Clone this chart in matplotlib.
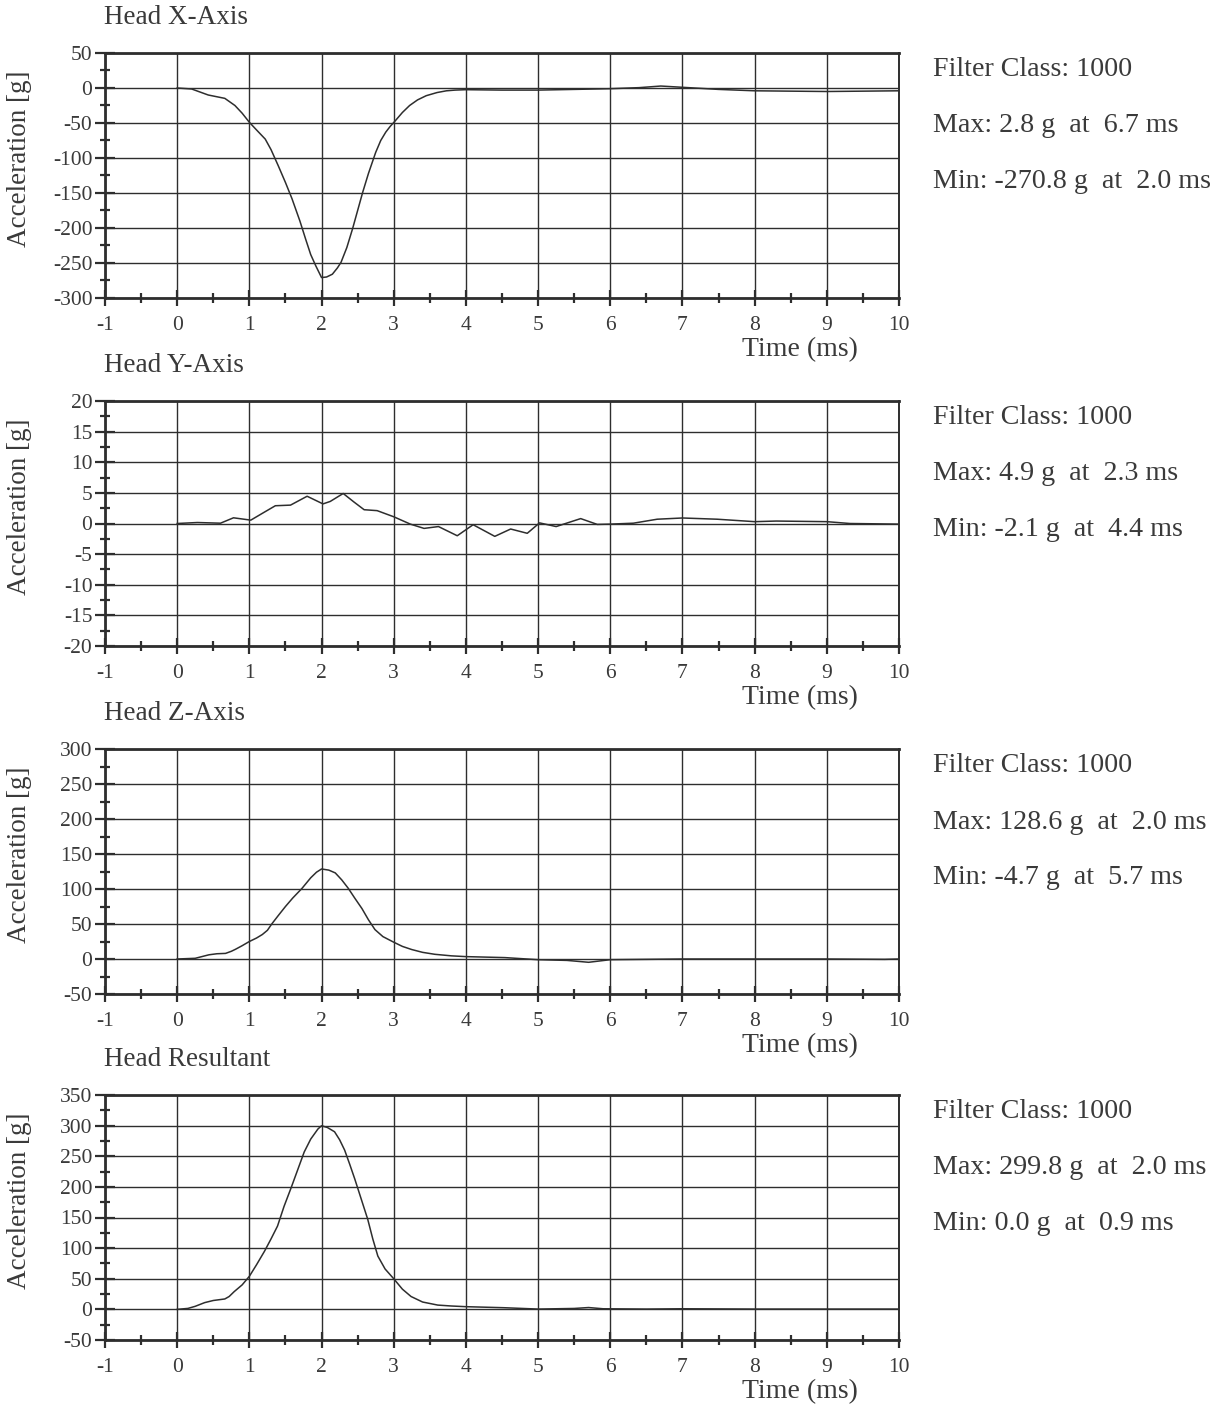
import matplotlib
matplotlib.use("Agg")  # no display
import matplotlib.pyplot as plt
from matplotlib.ticker import MultipleLocator

plt.rcParams["font.family"] = ["Liberation Serif", "DejaVu Serif"]
plt.rcParams["axes.unicode_minus"] = False  # the print uses plain hyphens

INK = "#3a3a3a"
LINE = "#2e2e2e"

# --- data (time in ms, acceleration in g) ---
x_time = [0, 0.2, 0.43, 0.66, 0.8, 0.9, 1.0, 1.1, 1.22, 1.3, 1.4, 1.5, 1.59,
          1.7, 1.78, 1.85, 1.92, 2.0, 2.07, 2.15, 2.22, 2.27, 2.35, 2.43, 2.5,
          2.57, 2.65, 2.75, 2.82, 2.89, 2.95, 3.02, 3.12, 3.22, 3.33, 3.45, 3.6,
          3.73, 3.85, 4.0, 4.5, 5.0, 5.5, 6.0, 6.4, 6.7, 7.0, 7.5, 8.0, 8.5,
          9.0, 9.5, 10.0]
x_acc = [0, -1.4, -10, -14.8, -25, -36, -49, -60, -73, -88, -111, -135, -158,
         -190, -216, -238, -254, -270.8, -270, -266, -257, -249, -228, -201, -175,
         -149, -122, -92, -75, -63, -55, -47, -35, -25, -17, -11, -6.5,
         -4, -3, -2.4, -3, -3, -2, -1, 0.5, 2.8, 1, -2, -4, -4.5,
         -5, -4.5, -4]

y_time = [0, 0.28, 0.6, 0.78, 1.02, 1.2, 1.36, 1.57, 1.8, 2.02, 2.12, 2.3, 2.45,
          2.59, 2.77, 3.0, 3.23, 3.42, 3.62, 3.88, 4.1, 4.4, 4.62, 4.85, 5.02,
          5.25, 5.59, 5.82, 6.0, 6.32, 6.65, 7.0, 7.48, 8.0, 8.3, 9.0, 9.32, 10.0]
y_acc = [0, 0.16, 0.05, 0.93, 0.55, 1.8, 2.9, 3.0, 4.45, 3.2, 3.6, 4.9, 3.5,
         2.25, 2.1, 1.1, -0.1, -0.8, -0.5, -2.0, -0.2, -2.1, -0.9, -1.6, 0.1,
         -0.5, 0.8, -0.15, -0.1, 0.05, 0.7, 0.9, 0.7, 0.3, 0.4, 0.3, 0.0, -0.1]

z_time = [0, 0.25, 0.44, 0.55, 0.67, 0.75, 0.81, 0.9, 1.0, 1.1, 1.18, 1.25, 1.31,
          1.4, 1.5, 1.6, 1.73, 1.85, 1.93, 2.0, 2.1, 2.19, 2.28, 2.37, 2.46,
          2.56, 2.65, 2.74, 2.85, 3.0, 3.12, 3.25, 3.4, 3.57, 3.8, 4.0, 4.54,
          5.0, 5.4, 5.7, 6.0, 6.5, 7.0, 8.0, 9.0, 9.8, 10.0]
z_acc = [0, 1, 6, 7.5, 8, 11, 14, 19, 25, 30, 35, 41, 50,
         62, 75, 87, 101, 116, 124, 128.6, 127, 123, 113, 101, 87,
         72, 56, 42, 32, 24, 18, 13.5, 9.5, 6.7, 4.5, 3.4, 2,
         -1, -2, -4.7, -1, -0.5, 0, 0, 0, -0.5, 0]

r_time = [0, 0.15, 0.25, 0.38, 0.5, 0.66, 0.72, 0.79, 0.9, 1.0, 1.1, 1.21, 1.3,
          1.39, 1.48, 1.58, 1.67, 1.76, 1.85, 1.95, 2.0, 2.08, 2.18, 2.25, 2.32,
          2.39, 2.46, 2.55, 2.64, 2.71, 2.78, 2.88, 3.0, 3.12, 3.24, 3.4, 3.61,
          3.8, 4.0, 4.53, 5.0, 5.5, 5.7, 5.9, 6.5, 7.0, 8.0, 9.0, 10.0]
r_acc = [0, 1.6, 5, 11, 14.5, 17, 21, 29, 40, 54, 73, 95, 115,
         136, 168, 199, 228, 257, 278, 294.5, 299.8, 297, 290, 277, 260,
         237, 213, 180, 147, 115, 87, 66, 50, 33, 21, 12, 7,
         5.5, 4.4, 2.7, 0.5, 1.5, 3, 1, 0.5, 1, 0.5, 0.5, 0.5]

titles = ["Head X-Axis", "Head Y-Axis", "Head Z-Axis", "Head Resultant"]
y_limits = [(-300, 50), (-20, 20), (-50, 300), (-50, 350)]
y_steps = [50, 5, 50, 50]
max_notes = ["Max: 2.8 g  at  6.7 ms", "Max: 4.9 g  at  2.3 ms",
             "Max: 128.6 g  at  2.0 ms", "Max: 299.8 g  at  2.0 ms"]
min_notes = ["Min: -270.8 g  at  2.0 ms", "Min: -2.1 g  at  4.4 ms",
             "Min: -4.7 g  at  5.7 ms", "Min: 0.0 g  at  0.9 ms"]
filter_note = "Filter Class: 1000"

series = [(x_time, x_acc), (y_time, y_acc), (z_time, z_acc), (r_time, r_acc)]

# --- layout in pixels of the 1223x1406 page ---
W, H = 1223, 1406
tops = [53, 401, 749, 1095]
left_px, right_px, height_px = 105, 899, 245

fig = plt.figure(figsize=(W / 100, H / 100), dpi=100)
fig.patch.set_facecolor("white")

for i, (t, a) in enumerate(series):
    top = tops[i]
    bottom = top + height_px
    ax = fig.add_axes([left_px / W, 1 - bottom / H,
                       (right_px - left_px) / W, height_px / H])

    ax.plot(t, a, color=LINE, linewidth=1.1)

    ax.set_xlim(-1, 10)
    ax.set_ylim(*y_limits[i])
    ax.xaxis.set_major_locator(MultipleLocator(1))
    ax.xaxis.set_minor_locator(MultipleLocator(0.5))
    ax.yaxis.set_major_locator(MultipleLocator(y_steps[i]))
    ax.yaxis.set_minor_locator(MultipleLocator(y_steps[i] / 2))

    ax.grid(which="major", color=LINE, linewidth=1.0)
    ax.set_axisbelow(True)
    for side, sp in ax.spines.items():
        sp.set_color(LINE)
        sp.set_linewidth(2.0 if side in ("top", "bottom", "left") else 1.4)

    ax.tick_params(axis="x", which="major", direction="inout", length=11,
                   width=1.6, color=LINE, labelsize=15.5, labelcolor=INK, pad=7.5)
    ax.tick_params(axis="x", which="minor", direction="inout", length=7,
                   width=1.6, color=LINE)
    ax.tick_params(axis="y", which="major", direction="inout", length=14,
                   width=1.6, color=LINE, labelsize=15.5, labelcolor=INK, pad=2)
    ax.tick_params(axis="y", which="minor", direction="inout", length=7,
                   width=1.6, color=LINE)

    # panel texts
    fig.text(104 / W, 1 - (top - 35) / H, titles[i], fontsize=19.5,
             color=INK, ha="left", va="center")
    fig.text(20 / W, 1 - (top + height_px / 2 - 17) / H, "Acceleration [g]",
             fontsize=19.5, color=INK, rotation=90, ha="center", va="center")
    fig.text(800 / W, 1 - (bottom + 52) / H, "Time (ms)", fontsize=20,
             color=INK, ha="center", va="center")
    notes = [filter_note, max_notes[i], min_notes[i]]
    for off, note in zip([16, 73, 128], notes):
        fig.text(933 / W, 1 - (top + off) / H, note, fontsize=20.2,
                 color=INK, ha="left", va="center")

fig.savefig("out.png", dpi=100, facecolor="white")
plt.close(fig)
